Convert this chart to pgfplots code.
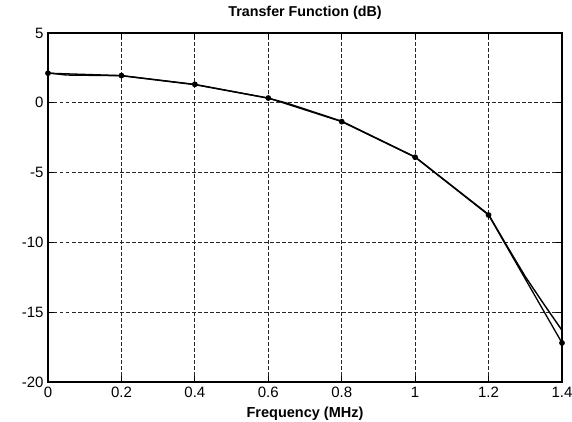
\documentclass[border=0pt]{standalone}
\usepackage{pgfplots}
\pgfplotsset{compat=1.18}
\usepackage{fontspec}
\setmainfont{Liberation Sans}

% Measured transfer function, sampled every 0.2 MHz
\pgfplotstableread{
f     dB
0.0   2.12
0.2   1.95
0.4   1.32
0.6   0.34
0.8  -1.35
1.0  -3.90
1.2  -8.04
1.4  -17.20
}\measured

% Model response, evaluated on a finer grid
\pgfplotstableread{
f     dB
0.00   2.14
0.05   1.99
0.20   1.94
0.40   1.30
0.60   0.33
0.65  -0.02
0.80  -1.32
1.00  -3.88
1.20  -8.00
1.25  -10.25
1.30  -12.45
1.35  -14.40
1.40  -16.30
}\model

\begin{document}
\begin{tikzpicture}[x=1pt,y=1pt]
\fill[white] (-48,-40) rectangle (524,382);
\path[use as bounding box] (-48,-40) rectangle (524,382);
\begin{axis}[
  at={(0,0)}, anchor=south west,
  scale only axis,
  width=514pt, height=349pt,
  xmin=0, xmax=1.4, ymin=-20, ymax=5,
  xtick={0,0.2,0.4,0.6,0.8,1,1.2,1.4},
  xticklabels={0,0.2,0.4,0.6,0.8,1,1.2,1.4},
  ytick={-20,-15,-10,-5,0,5},
  yticklabels={-20,-15,-10,-5,0,5},
  tick align=inside,
  major tick length=6pt,
  tick style={black, line width=0.9pt},
  grid=major,
  major grid style={black!85, line width=1.1pt, dash pattern=on 3.5pt off 2.5pt},
  axis line style={black, line width=1.4pt},
  ticklabel style={font=\fontsize{15}{17}\selectfont},
  xticklabel style={anchor=base, yshift=-16pt},
  yticklabel style={anchor=east, xshift=-1pt},
  title={\bfseries Transfer Function (dB)},
  title style={font=\fontsize{14.3}{16}\selectfont, at={(0.5,1)}, anchor=base, yshift=10pt},
  xlabel={\bfseries Frequency (MHz)},
  xlabel style={font=\fontsize{14.5}{16}\selectfont, at={(0.5,0)}, anchor=base, yshift=-36pt},
]
\addplot[black, line width=1.4pt] table[x=f, y=dB] {\model};
\addplot[black, line width=1.3pt, mark=*, mark size=2.2pt] table[x=f, y=dB] {\measured};
\end{axis}
\end{tikzpicture}
\end{document}
